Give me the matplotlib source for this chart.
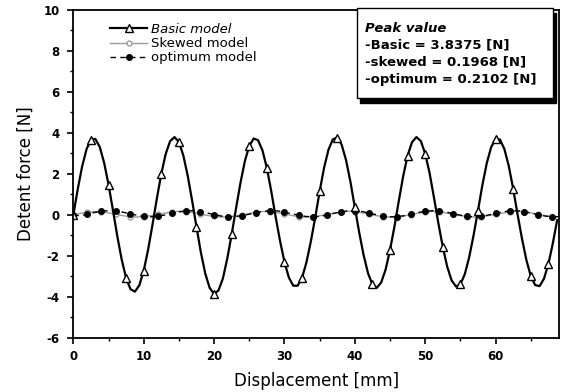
import numpy as np
import matplotlib
matplotlib.use('Agg')
import matplotlib.pyplot as plt
from matplotlib.patches import Rectangle

plt.rcParams['font.family'] = ['DejaVu Sans']
plt.rcParams['axes.unicode_minus'] = False

# Basic model, sampled every 0.625 mm
basic_x = np.arange(0, 111) * 0.625
basic_y = [0.0, 1.26, 2.37, 3.21, 3.68, 3.71, 3.32, 2.55, 1.48, 0.24,
           -1.04, -2.18, -3.08, -3.62, -3.74, -3.43, -2.72, -1.69, -0.47, 0.82,
           2.01, 2.98, 3.60, 3.80, 3.56, 2.91, 1.92, 0.71, -0.59, -1.83,
           -2.86, -3.56, -3.85, -3.68, -3.10, -2.12, -0.95, 0.34, 1.57, 2.63,
           3.37, 3.73, 3.65, 3.15, 2.29, 1.16, -0.10, -1.27, -2.29, -3.05,
           -3.45, -3.45, -3.06, -2.31, -1.29, -0.12, 1.15, 2.30, 3.18, 3.69,
           3.78, 3.43, 2.68, 1.62, 0.37, -0.86, -1.96, -2.84, -3.39, -3.55,
           -3.29, -2.66, -1.71, -0.57, 0.69, 1.90, 2.90, 3.55, 3.80, 3.61,
           2.99, 2.04, 0.84, -0.41, -1.56, -2.52, -3.19, -3.49, -3.38, -2.89,
           -2.06, -0.99, 0.21, 1.46, 2.53, 3.31, 3.71, 3.68, 3.22, 2.39,
           1.28, 0.03, -1.15, -2.19, -2.98, -3.42, -3.47, -3.11, -2.40, -1.40,
           -0.25]

# Skewed / optimum models, sampled every 1 mm
small_x = np.arange(0, 70)
skewed_y = [0.02, 0.08, 0.14, 0.17, 0.15, 0.10, 0.04, -0.03, -0.08, -0.10,
            -0.08, -0.03, 0.03, 0.09, 0.14, 0.18, 0.17, 0.12, 0.05, -0.02,
            -0.07, -0.10, -0.09, -0.05, 0.01, 0.07, 0.13, 0.17, 0.16, 0.11,
            0.05, -0.02, -0.08, -0.10, -0.08, -0.04, 0.02, 0.08, 0.14, 0.18,
            0.16, 0.11, 0.04, -0.03, -0.08, -0.10, -0.09, -0.04, 0.02, 0.09,
            0.14, 0.17, 0.15, 0.10, 0.03, -0.03, -0.08, -0.10, -0.08, -0.03,
            0.03, 0.09, 0.15, 0.18, 0.16, 0.10, 0.04, -0.03, -0.08, -0.09]
optimum_y = [-0.02, -0.03, 0.04, 0.12, 0.18, 0.21, 0.20, 0.14, 0.06, -0.01,
             -0.07, -0.09, -0.06, 0.00, 0.08, 0.15, 0.20, 0.21, 0.17, 0.10,
             0.02, -0.05, -0.09, -0.08, -0.04, 0.04, 0.12, 0.18, 0.21, 0.20,
             0.14, 0.06, -0.01, -0.07, -0.09, -0.07, 0.00, 0.08, 0.15, 0.20,
             0.21, 0.17, 0.10, 0.02, -0.05, -0.09, -0.08, -0.04, 0.03, 0.12,
             0.18, 0.21, 0.20, 0.14, 0.06, -0.01, -0.07, -0.09, -0.07, 0.00,
             0.08, 0.15, 0.20, 0.21, 0.17, 0.10, 0.02, -0.05, -0.09, -0.08]

peak_lines = ['Peak value', '-Basic = 3.8375 [N]', '-skewed = 0.1968 [N]',
              '-optimum = 0.2102 [N]']

fig = plt.figure(figsize=(5.62, 3.92), dpi=100)
ax = fig.add_axes([0.1305, 0.1378, 0.864, 0.8367])

ax.plot(small_x, skewed_y, color='#9a9a9a', lw=1.0, marker='o', ms=3.5,
        mfc='white', mec='#9a9a9a', markevery=2, label='Skewed model')
ax.plot(small_x, optimum_y, color='black', lw=1.0, ls=(0, (4, 3)), marker='o',
        ms=4, mfc='black', mec='black', markevery=2, label='optimum model')
ax.plot(basic_x, basic_y, color='black', lw=1.6, marker='^', ms=6,
        mfc='white', mec='black', mew=1.0, markevery=4, label='Basic model')

ax.set_xlim(0, 69)
ax.set_ylim(-6, 10)
ax.set_xticks(np.arange(0, 61, 10))
ax.set_xticks(np.arange(5, 69, 10), minor=True)
ax.set_yticks(np.arange(-6, 11, 2))
ax.set_yticks(np.arange(-5, 10, 2), minor=True)
ax.tick_params(which='major', direction='out', length=4, width=1.2,
               labelsize=8.5)
ax.tick_params(axis='x', which='major', pad=5)
ax.tick_params(axis='y', which='major', pad=6)
ax.tick_params(which='minor', direction='out', length=2.5, width=1.0)
for lbl in ax.get_xticklabels() + ax.get_yticklabels():
    lbl.set_fontweight('bold')
for sp in ax.spines.values():
    sp.set_linewidth(1.3)

ax.set_xlabel('Displacement [mm]', fontsize=12, labelpad=6)
ax.set_ylabel('Detent force [N]', fontsize=12, labelpad=6)

handles, labels = ax.get_legend_handles_labels()
order = [2, 0, 1]
leg = ax.legend([handles[i] for i in order], [labels[i] for i in order],
                loc='upper left', bbox_to_anchor=(0.06, 0.985), frameon=False,
                fontsize=9.5, handlelength=2.8, handletextpad=0.3,
                labelspacing=0.1, borderaxespad=0.2)
leg.get_texts()[0].set_fontstyle('italic')

# Peak value box with shadow (pixel coords converted to figure fractions)
W, H = 562.0, 392.0
bx0, bx1, by0, by1 = 357, 553, 98, 8
fig.patches.append(Rectangle((bx0 / W + 0.006, 1 - by0 / H - 0.012),
                             (bx1 - bx0) / W, (by0 - by1) / H,
                             transform=fig.transFigure, facecolor='black',
                             edgecolor='black', zorder=5))
fig.patches.append(Rectangle((bx0 / W, 1 - by0 / H), (bx1 - bx0) / W,
                             (by0 - by1) / H, transform=fig.transFigure,
                             facecolor='white', edgecolor='black', lw=1.0,
                             zorder=6))
ys = [28, 45, 62, 79]
for i, (txt, yp) in enumerate(zip(peak_lines, ys)):
    fig.text(365 / W, 1 - yp / H, txt, fontsize=9.5, fontweight='bold',
             fontstyle='italic' if i == 0 else 'normal', va='center',
             ha='left', zorder=7)

fig.savefig('out.png', dpi=100)
